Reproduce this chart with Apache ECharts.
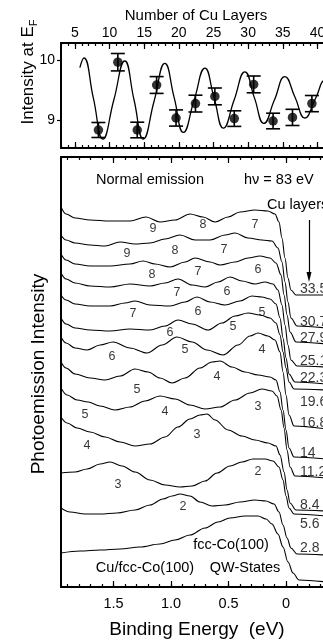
<!DOCTYPE html>
<html>
<head>
<meta charset="utf-8">
<script src="https://cdn.jsdelivr.net/npm/echarts@6/dist/echarts.min.js"></script>
<style>
  html, body { margin: 0; padding: 0; background: #fff; }
  #main { width: 323px; height: 641px; }
</style>
</head>
<body>
<div id="main"></div>
<script>
// ---------- tick values ----------
var layerTicks = [5, 10, 15, 20, 25, 30, 35, 40];
var layerMinor = [3, 4, 5, 6, 7, 8, 9, 10, 11, 12, 13, 14, 15, 16, 17, 18, 19, 20, 21, 22,
    23, 24, 25, 26, 27, 28, 29, 30, 31, 32, 33, 34, 35, 36, 37, 38, 39, 40, 41, 42];
var efTicks = [9, 10];
var beMajor = [0, 0.5, 1.0, 1.5];
var beMinor = [-0.3, -0.2, -0.1, 0, 0.1, 0.2, 0.3, 0.4, 0.5, 0.6, 0.7, 0.8, 0.9, 1.0,
    1.1, 1.2, 1.3, 1.4, 1.5, 1.6, 1.7, 1.8, 1.9];

// ---------- top panel: intensity at E_F ----------
var qwLayers = [8.4, 11.2, 14.0, 16.8, 19.6, 22.4, 25.2, 28.0, 30.8, 33.6, 36.4, 39.2];
var qwIntensity = [8.83, 9.96, 8.83, 9.58, 9.03, 9.27, 9.39, 9.02, 9.59, 8.98, 9.04, 9.27];
var qwError = [0.125, 0.145, 0.13, 0.14, 0.135, 0.14, 0.14, 0.13, 0.14, 0.13, 0.135, 0.135];

var fitLayers = [5.72, 6.3, 7.67, 9.04, 10.62, 12.2, 13.54, 14.88, 16.43, 17.99, 19.33, 20.66,
    22.21, 23.76, 25.1, 26.43, 27.98, 29.53, 30.9, 32.27, 33.79, 35.3, 36.75, 38.19, 39.7, 41.2, 42];
var fitIntensity = [9.87, 10.03, 9.36, 8.68, 9.33, 9.98, 9.33, 8.68, 9.31, 9.94, 9.37, 8.79,
    9.33, 9.86, 9.36, 8.86, 9.33, 9.8, 9.37, 8.94, 9.33, 9.72, 9.38, 9.03, 9.35, 9.66, 9.6];

// ---------- bottom panel: spectra [binding energy, intensity (offset)] ----------
var spec335 = [[1.957,380],[1.913,373],[1.835,369],[1.704,367],[1.530,366],[1.357,366],[1.217,370],[1.096,365],[0.965,367],[0.835,373],[0.722,370],[0.617,365],[0.504,370],[0.400,375],[0.270,377],[0.157,376],[0.096,373],[0.061,365],[0.035,349],[0.009,329],[-0.017,309],[-0.043,297],[-0.087,292],[-0.35,292]];
var spec307 = [[1.957,352],[1.913,347],[1.835,344],[1.704,342],[1.574,341],[1.443,345],[1.313,343],[1.183,344],[1.052,348],[0.922,352],[0.791,347],[0.661,347],[0.530,352],[0.443,354],[0.330,349],[0.209,347],[0.122,346],[0.070,339],[0.035,325],[0.009,305],[-0.017,285],[-0.043,269],[-0.096,261],[-0.35,259]];
var spec279 = [[1.957,333],[1.913,327],[1.835,323],[1.704,321],[1.530,321],[1.357,323],[1.243,326],[1.139,323],[1.009,320],[0.878,325],[0.791,329],[0.661,325],[0.574,322],[0.443,325],[0.330,329],[0.226,331],[0.139,329],[0.087,324],[0.043,312],[0.017,292],[-0.009,272],[-0.035,255],[-0.087,245],[-0.35,243]];
var spec251 = [[1.957,314],[1.913,308],[1.835,304],[1.704,301],[1.530,300],[1.357,303],[1.183,301],[1.052,304],[0.939,308],[0.817,302],[0.704,300],[0.591,305],[0.487,310],[0.383,306],[0.270,303],[0.183,305],[0.113,303],[0.070,297],[0.035,282],[0.009,262],[-0.017,242],[-0.043,227],[-0.096,221],[-0.35,220]];
var spec223 = [[1.957,292],[1.913,287],[1.835,283],[1.704,281],[1.530,281],[1.400,284],[1.313,286],[1.183,282],[1.009,281],[0.878,285],[0.774,290],[0.661,285],[0.530,282],[0.400,286],[0.296,291],[0.209,290],[0.139,288],[0.087,283],[0.052,269],[0.026,249],[0,229],[-0.026,213],[-0.078,205],[-0.35,203]];
var spec196 = [[1.957,269],[1.913,263],[1.835,259],[1.704,257],[1.530,256],[1.357,258],[1.183,257],[1.052,261],[0.939,267],[0.817,263],[0.678,257],[0.557,264],[0.443,271],[0.330,274],[0.226,272],[0.139,269],[0.087,264],[0.052,252],[0.026,235],[0,219],[-0.026,205],[-0.070,198],[-0.35,197]];
var spec168 = [[1.957,250],[1.913,244],[1.835,239],[1.730,237],[1.617,242],[1.504,245],[1.357,239],[1.209,234],[1.078,242],[0.948,250],[0.817,245],[0.687,237],[0.548,232],[0.417,242],[0.313,251],[0.243,254],[0.157,251],[0.096,247],[0.052,235],[0.026,215],[0,192],[-0.026,172],[-0.070,161],[-0.35,158]];
var spec140 = [[1.957,225],[1.913,219],[1.835,213],[1.704,209],[1.574,207],[1.443,211],[1.313,218],[1.200,215],[1.096,209],[0.991,204],[0.878,209],[0.748,219],[0.643,225],[0.574,226],[0.470,220],[0.357,215],[0.243,212],[0.139,210],[0.087,207],[0.052,195],[0.026,177],[0,157],[-0.026,139],[-0.070,130],[-0.35,128]];
var spec112 = [[1.957,199],[1.904,192],[1.817,187],[1.722,185],[1.617,181],[1.487,177],[1.357,180],[1.226,186],[1.096,191],[0.965,188],[0.835,182],[0.704,178],[0.574,180],[0.443,187],[0.313,194],[0.209,198],[0.122,196],[0.078,191],[0.043,177],[0.017,159],[-0.009,137],[-0.035,120],[-0.078,111],[-0.35,109]];
var spec084 = [[1.957,170],[1.904,164],[1.817,159],[1.704,155],[1.574,150],[1.443,145],[1.313,141],[1.183,143],[1.052,150],[0.939,160],[0.835,168],[0.748,172],[0.687,173],[0.617,167],[0.504,157],[0.383,151],[0.270,147],[0.157,144],[0.087,141],[0.052,132],[0.017,115],[-0.009,97],[-0.035,84],[-0.087,77],[-0.35,76]];
var spec056 = [[1.957,114],[1.835,115],[1.730,118],[1.617,123],[1.530,125],[1.426,121],[1.313,115],[1.183,107],[1.052,102],[0.922,100],[0.817,101],[0.704,106],[0.600,114],[0.487,121],[0.383,125],[0.287,128],[0.183,128],[0.113,126],[0.061,120],[0.026,107],[0,91],[-0.026,79],[-0.070,73],[-0.35,71]];
var spec028 = [[1.957,79],[1.878,75],[1.748,73],[1.617,73],[1.470,74],[1.313,77],[1.183,82],[1.070,88],[0.991,91],[0.922,93],[0.835,91],[0.748,85],[0.643,81],[0.530,82],[0.400,85],[0.270,87],[0.174,86],[0.104,83],[0.061,75],[0.026,62],[-0.009,49],[-0.043,39],[-0.096,33],[-0.35,32]];
var specCo = [[1.957,34],[1.791,36],[1.617,37],[1.443,38],[1.270,40],[1.096,43],[0.965,47],[0.835,52],[0.704,59],[0.591,65],[0.487,69],[0.357,71],[0.243,71],[0.174,68],[0.122,63],[0.070,53],[0.026,40],[-0.017,25],[-0.061,14],[-0.113,7],[-0.35,5]];

var spectra = [spec335, spec307, spec279, spec251, spec223, spec196, spec168,
    spec140, spec112, spec084, spec056, spec028, specCo];

// QW state numbers under the peaks
var peakLabels = [
    [1.157,358,'9'],[0.722,362,'8'],[0.270,362,'7'],
    [1.383,333,'9'],[0.965,336,'8'],[0.539,337,'7'],
    [1.165,312,'8'],[0.765,315,'7'],[0.243,317,'6'],
    [0.948,294,'7'],[0.513,295,'6'],
    [1.330,273,'7'],[0.765,275,'6'],[0.209,274,'5'],
    [1.009,254,'6'],[0.461,260,'5'],
    [1.513,230,'6'],[0.878,237,'5'],[0.209,237,'4'],
    [1.296,197,'5'],[0.600,210,'4'],
    [1.748,172,'5'],[1.052,175,'4'],[0.243,180,'3'],
    [1.730,141,'4'],[0.774,152,'3'],
    [1.461,102,'3'],[0.243,115,'2'],
    [0.896,80,'2']
];

// Cu thickness next to each spectrum
var layerLabels = [
    [-0.122,298,'33.5'],[-0.122,265,'30.7'],[-0.122,249,'27.9'],[-0.122,226,'25.1'],
    [-0.122,209,'22.3'],[-0.122,185,'19.6'],[-0.122,164,'16.8'],[-0.122,134,'14'],
    [-0.122,115,'11.2'],[-0.122,82,'8.4'],[-0.122,63,'5.6'],[-0.122,39,'2.8']
];

var arrowLine = [[-0.2, 367], [-0.2, 310]];

var black = '#000';
var fontName = 'Liberation Sans';

var chartDom = document.getElementById('main');
var chart = echarts.init(chartDom);

function tickAxis(gridIndex, position, min, max, ticks, len, lineOn, inverse) {
    return {
        type: 'value',
        gridIndex: gridIndex,
        position: position,
        min: min,
        max: max,
        inverse: !!inverse,
        axisLine: { show: lineOn, onZero: false, lineStyle: { color: black, width: 2 } },
        axisTick: { show: true, inside: true, length: len, customValues: ticks,
            lineStyle: { color: black, width: 1.2 } },
        axisLabel: { show: false },
        splitLine: { show: false }
    };
}

var xTopLabels = tickAxis(1, 'top', 3, 42, layerTicks, 6, false);
xTopLabels.axisLabel = { show: true, customValues: layerTicks, color: black,
    fontSize: 14, fontFamily: fontName, margin: 3 };

var xBeLabels = tickAxis(3, 'bottom', -0.35, 1.957, beMajor, 6, false, true);
xBeLabels.axisLabel = { show: true, customValues: beMajor, color: black,
    fontSize: 14.5, fontFamily: fontName, margin: 9,
    formatter: function (v) { return v === 0 ? '0' : v.toFixed(1); } };

var errData = qwLayers.map(function (l, i) {
    return [l, qwIntensity[i] - qwError[i], qwIntensity[i] + qwError[i]];
});

var spectrumSeries = spectra.map(function (s) {
    return {
        type: 'line',
        xAxisIndex: 4,
        yAxisIndex: 2,
        data: s,
        smooth: 0.35,
        smoothMonotone: 'x',
        symbol: 'none',
        lineStyle: { color: black, width: 1.1 },
        silent: true
    };
});

var option = {
    animation: false,
    backgroundColor: '#fff',
    textStyle: { fontFamily: fontName, color: black },
    grid: [
        { left: 61, top: 43, right: -8.3, height: 105, outerBoundsMode: 'none' },
        { left: 61, top: 43, right: -8.3, height: 105, outerBoundsMode: 'none' },
        { left: 61, top: 157, right: -3.25, bottom: 54, outerBoundsMode: 'none' },
        { left: 61, top: 157, right: -3.25, bottom: 54, outerBoundsMode: 'none' }
    ],
    xAxis: [
        tickAxis(0, 'top', 3, 42, layerMinor, 3, true),
        tickAxis(0, 'bottom', 3, 42, layerMinor, 3, true),
        xTopLabels,
        tickAxis(1, 'bottom', 3, 42, layerTicks, 6, false),
        tickAxis(2, 'bottom', -0.35, 1.957, beMinor, 3, true, true),
        tickAxis(2, 'top', -0.35, 1.957, beMinor, 3, true, true),
        xBeLabels,
        tickAxis(3, 'top', -0.35, 1.957, beMajor, 6, false, true)
    ],
    yAxis: [
        {
            type: 'value', gridIndex: 0, min: 8.53, max: 10.28,
            axisLine: { show: true, onZero: false, lineStyle: { color: black, width: 2 } },
            axisTick: { show: true, inside: false, length: 4, customValues: efTicks,
                lineStyle: { color: black, width: 1.2 } },
            axisLabel: { show: true, customValues: efTicks, color: black, fontSize: 14,
                fontFamily: fontName, margin: 6 },
            splitLine: { show: false }
        },
        { type: 'value', gridIndex: 1, min: 8.53, max: 10.28, show: false },
        {
            type: 'value', gridIndex: 2, min: 0, max: 430,
            axisLine: { show: true, onZero: false, lineStyle: { color: black, width: 2 } },
            axisTick: { show: false },
            axisLabel: { show: false },
            splitLine: { show: false }
        },
        { type: 'value', gridIndex: 3, min: 0, max: 430, show: false }
    ],
    graphic: [
        { type: 'text', x: 196, y: 16, style: { text: 'Number of Cu Layers', fill: black,
            font: '15px "Liberation Sans"', align: 'center', verticalAlign: 'middle' } },
        { type: 'text', x: 28, y: 72, rotation: Math.PI / 2, style: {
            text: '{a|Intensity at E}{s|F}', fill: black, align: 'center', verticalAlign: 'middle',
            rich: {
                a: { fontSize: 17, fontFamily: fontName, lineHeight: 22, verticalAlign: 'middle' },
                s: { fontSize: 11, fontFamily: fontName, lineHeight: 12, verticalAlign: 'bottom' }
            } } },
        { type: 'text', x: 39, y: 374, rotation: Math.PI / 2, style: { text: 'Photoemission Intensity',
            fill: black, font: '19px "Liberation Sans"', align: 'center', verticalAlign: 'middle' } },
        { type: 'text', x: 197, y: 630, style: { text: 'Binding Energy  (eV)', fill: black,
            font: '19px "Liberation Sans"', align: 'center', verticalAlign: 'middle' } },
        { type: 'text', x: 150, y: 180, style: { text: 'Normal emission', fill: black,
            font: '14.5px "Liberation Sans"', align: 'center', verticalAlign: 'middle' } },
        { type: 'text', x: 244, y: 180, style: { text: 'hν = 83 eV', fill: black,
            font: '14.5px "Liberation Sans"', align: 'left', verticalAlign: 'middle' } },
        { type: 'text', x: 267, y: 205, style: { text: 'Cu layers', fill: black,
            font: '14.5px "Liberation Sans"', align: 'left', verticalAlign: 'middle' } },
        { type: 'text', x: 231, y: 545, style: { text: 'fcc-Co(100)', fill: black,
            font: '14.5px "Liberation Sans"', align: 'center', verticalAlign: 'middle' } },
        { type: 'text', x: 145, y: 568, style: { text: 'Cu/fcc-Co(100)', fill: black,
            font: '14.5px "Liberation Sans"', align: 'center', verticalAlign: 'middle' } },
        { type: 'text', x: 245, y: 568, style: { text: 'QW-States', fill: black,
            font: '14.5px "Liberation Sans"', align: 'center', verticalAlign: 'middle' } }
    ],
    series: [
        {
            type: 'line',
            xAxisIndex: 0, yAxisIndex: 0,
            data: fitLayers.map(function (l, i) { return [l, fitIntensity[i]]; }),
            smooth: 0.5,
            symbol: 'none',
            lineStyle: { color: black, width: 1.3 },
            silent: true
        },
        {
            type: 'custom',
            xAxisIndex: 0, yAxisIndex: 0,
            data: errData,
            encode: { x: 0, y: [1, 2] },
            renderItem: function (params, api) {
                var top = api.coord([api.value(0), api.value(2)]);
                var bot = api.coord([api.value(0), api.value(1)]);
                var w = 7;
                var st = { stroke: black, lineWidth: 1.6 };
                return {
                    type: 'group',
                    children: [
                        { type: 'line', shape: { x1: top[0], y1: top[1], x2: bot[0], y2: bot[1] }, style: st },
                        { type: 'line', shape: { x1: top[0] - w, y1: top[1], x2: top[0] + w, y2: top[1] }, style: st },
                        { type: 'line', shape: { x1: bot[0] - w, y1: bot[1], x2: bot[0] + w, y2: bot[1] }, style: st }
                    ]
                };
            },
            silent: true
        },
        {
            type: 'scatter',
            xAxisIndex: 0, yAxisIndex: 0,
            data: qwLayers.map(function (l, i) { return [l, qwIntensity[i]]; }),
            symbolSize: 9.5,
            itemStyle: { color: black },
            silent: true
        }
    ].concat(spectrumSeries).concat([
        {
            type: 'scatter',
            xAxisIndex: 4, yAxisIndex: 2,
            data: peakLabels,
            symbolSize: 1,
            itemStyle: { color: 'transparent' },
            label: {
                show: true, position: 'inside', color: black, fontSize: 12.5, fontFamily: fontName,
                align: 'center', verticalAlign: 'middle',
                formatter: function (p) { return p.data[2]; }
            },
            silent: true
        },
        {
            type: 'scatter',
            xAxisIndex: 4, yAxisIndex: 2,
            data: layerLabels,
            symbolSize: 1,
            itemStyle: { color: 'transparent' },
            label: {
                show: true, position: 'inside', color: black, fontSize: 14, fontFamily: fontName,
                align: 'left', verticalAlign: 'middle',
                formatter: function (p) { return p.data[2]; }
            },
            markLine: {
                silent: true,
                symbol: ['none', 'triangle'],
                symbolSize: [5, 10],
                label: { show: false },
                lineStyle: { color: black, width: 1.2, type: 'solid' },
                data: [[{ coord: arrowLine[0] }, { coord: arrowLine[1] }]]
            },
            silent: true
        }
    ])
};

chart.setOption(option);
</script>
</body>
</html>
